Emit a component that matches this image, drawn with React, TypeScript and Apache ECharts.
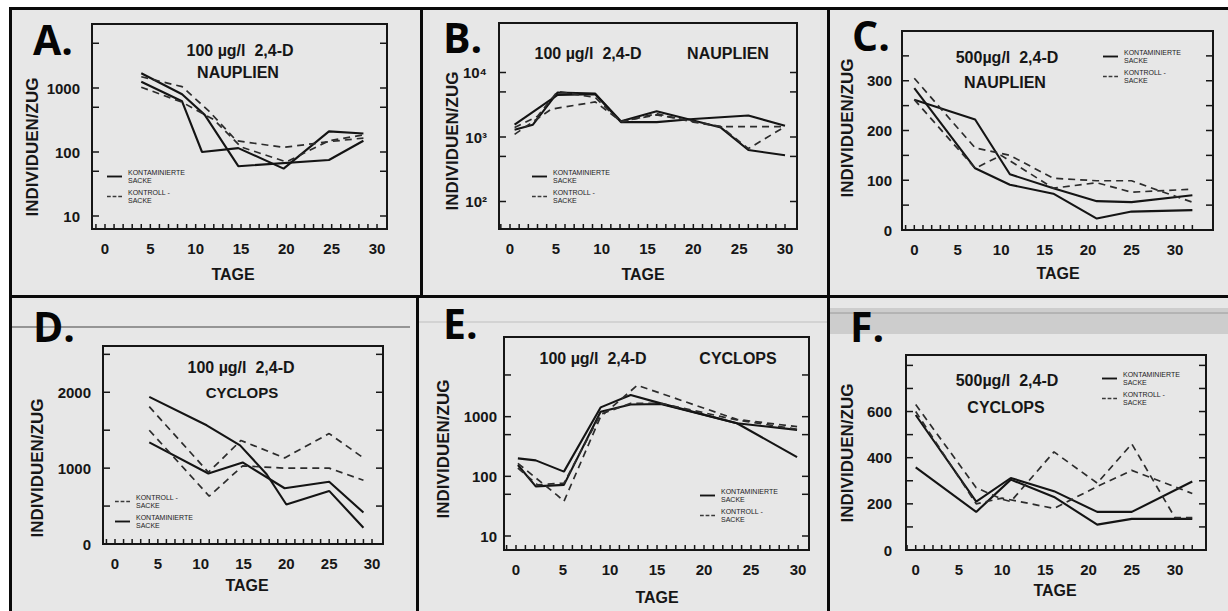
import React, { useEffect, useRef } from 'react';
import * as echarts from 'echarts';

type Pt = [number, number];

// ---------- data (day, individuals per haul) ----------
const A_SOLID_1: Pt[] = [[4, 1250], [8.5, 620], [10.7, 100], [14.7, 115], [19.7, 55], [24.7, 210], [28.5, 195]];
const A_SOLID_2: Pt[] = [[4, 1700], [8.5, 800], [11, 380], [14.7, 60], [24.7, 75], [28.5, 150]];
const A_DASH_1: Pt[] = [[4, 1500], [8.5, 1050], [11.5, 430], [14.5, 150], [19.7, 118], [24.7, 145], [28.5, 165]];
const A_DASH_2: Pt[] = [[4, 1030], [8.5, 600], [12, 320], [15, 120], [20, 70], [24.7, 150], [28.5, 185]];

const B_SOLID_1: Pt[] = [[0.5, 1300], [2.5, 1550], [5.2, 4900], [9.3, 4700], [12.1, 1750], [16, 2500], [20, 1800], [23, 1400], [26, 630], [30, 520]];
const B_SOLID_2: Pt[] = [[0.5, 1550], [5.2, 4500], [9.3, 4600], [12.1, 1700], [16, 1700], [20, 1900], [26, 2150], [30, 1500]];
const B_DASH_1: Pt[] = [[0.5, 1100], [4.5, 2700], [9.3, 3500], [12.1, 1750], [16, 2200], [20, 1750], [23, 1450], [30, 1450]];
const B_DASH_2: Pt[] = [[0.5, 1400], [3, 2100], [5.2, 5100], [9.3, 4100], [12.1, 1700], [16, 2300], [20, 1700], [23, 1450], [26, 660], [30, 1450]];

const C_SOLID_1: Pt[] = [[0, 262], [7, 222], [11, 112], [16, 84], [21, 58], [25, 56], [32, 70]];
const C_SOLID_2: Pt[] = [[0, 285], [7, 124], [11, 91], [16, 73], [21, 23], [25, 37], [32, 40]];
const C_DASH_1: Pt[] = [[0, 305], [7, 165], [11, 150], [16, 104], [21, 99], [25, 99], [28, 80], [32, 56]];
const C_DASH_2: Pt[] = [[0, 262], [7, 124], [10, 150], [16, 84], [21, 95], [25, 76], [32, 82]];

const D_SOLID_1: Pt[] = [[4, 1940], [10.7, 1565], [14.6, 1300], [17.7, 920], [20, 520], [25, 700], [29, 215]];
const D_SOLID_2: Pt[] = [[4, 1340], [10.9, 930], [14.9, 1075], [19.8, 735], [25, 820], [29, 415]];
const D_DASH_1: Pt[] = [[4, 1810], [10.9, 945], [14.7, 1365], [19.8, 1135], [25, 1455], [29, 1135]];
const D_DASH_2: Pt[] = [[4, 1500], [11, 630], [14.9, 1030], [19.8, 1000], [25, 1000], [29, 840]];

const E_SOLID_1: Pt[] = [[0.2, 200], [2.1, 185], [5.1, 120], [9, 1430], [12.2, 2300], [15.4, 1670], [23.5, 775], [29.9, 210]];
const E_SOLID_2: Pt[] = [[0.2, 155], [2.1, 68], [5.1, 72], [9, 1210], [12.2, 1600], [15.4, 1630], [23.5, 775], [29.9, 600]];
const E_DASH_1: Pt[] = [[0.2, 165], [4.4, 48], [5.1, 38], [9, 1000], [12.9, 3350], [23.5, 900], [29.9, 680]];
const E_DASH_2: Pt[] = [[0.2, 138], [2.3, 72], [5.1, 77], [9, 1100], [12.2, 1670], [15.4, 1670], [23.5, 880], [29.9, 615]];

const F_SOLID_1: Pt[] = [[0, 585], [7, 210], [11, 312], [16, 255], [21, 165], [25, 165], [32, 297]];
const F_SOLID_2: Pt[] = [[0, 358], [7, 165], [11, 305], [16, 230], [21, 110], [25, 135], [32, 135]];
const F_DASH_1: Pt[] = [[0, 630], [7, 270], [10, 220], [11, 210], [16, 425], [21, 290], [25, 460], [30, 140], [32, 140]];
const F_DASH_2: Pt[] = [[0, 600], [7, 200], [10, 225], [16, 180], [21, 275], [25, 345], [32, 245]];

// ---------- ticks and tick labels ----------
const DAY_LABELS = [0, 5, 10, 15, 20, 25, 30];
const DAY_TICKS_30 = [-1, 0, 1, 2, 3, 4, 5, 6, 7, 8, 9, 10, 11, 12, 13, 14, 15, 16, 17, 18, 19, 20, 21, 22, 23, 24, 25, 26, 27, 28, 29, 30];
const DAY_TICKS_32 = [...DAY_TICKS_30, 31, 32];
const LOG_LABELS_A = [10, 100, 1000];
const LOG_TICKS_A = [10, 50, 100, 500, 1000, 5000];
const LOG_LABELS_B = [100, 1000, 10000];
const LOG_TICKS_B = [100, 500, 1000, 5000, 10000];
const C_LABELS = [0, 100, 200, 300];
const C_TICKS = [50, 100, 150, 200, 250, 300, 350];
const D_LABELS = [0, 1000, 2000];
const D_TICKS = [500, 1000, 1500, 2000, 2500];
const F_LABELS = [0, 200, 400, 600];
const F_TICKS = [100, 200, 300, 400, 500, 600, 700, 800];
const POW_LABEL: Record<number, string> = { 100: '10²', 1000: '10³', 10000: '10⁴' };

const KONT = 'KONTAMINIERTE\nSACKE';
const KTRL = 'KONTROLL -\nSACKE';

const FONT = "'Liberation Sans', Arial, sans-serif";
const INK = '#161616';

interface Panel {
  letter: string; letterPos: [number, number];
  frame: [number, number, number, number];
  day0: number; pxPerDay: number; xMin: number; xMax: number; xTicks: number[]; xOffset: number;
  yTop: number; yBottom: number;
  log: boolean; yMin: number; yMax: number; yInterval?: number; yLabels: number[]; yTicks: number[]; yMargin: number;
  pow?: boolean;
  solid: Pt[][]; dashed: Pt[][];
  titles: { text: string; x: number; y: number; size: number }[];
  yTitle: [number, number]; xTitle: [number, number];
  legend: [number, number]; legendOrder: string[];
}

const PANELS: Panel[] = [
  {
    letter: 'A.', letterPos: [33, 39], frame: [92, 24, 295, 205],
    day0: 105, pxPerDay: 9.067, xMin: -1.2, xMax: 31.1, xTicks: DAY_TICKS_30, xOffset: 13, yTop: 24, yBottom: 216,
    log: true, yMin: 10, yMax: 10000, yLabels: LOG_LABELS_A, yTicks: LOG_TICKS_A, yMargin: 12,
    solid: [A_SOLID_1, A_SOLID_2], dashed: [A_DASH_1, A_DASH_2],
    titles: [{ text: '100 µg/l  2,4-D', x: 240, y: 50, size: 16 }, { text: 'NAUPLIEN', x: 238, y: 72, size: 16 }],
    yTitle: [32, 147], xTitle: [233, 274], legend: [107, 168], legendOrder: [KONT, KTRL],
  },
  {
    letter: 'B.', letterPos: [443, 37], frame: [499, 23, 298, 206],
    day0: 510, pxPerDay: 9.167, xMin: -1.1, xMax: 31.2, xTicks: DAY_TICKS_30, xOffset: 27.5, yTop: 72.5, yBottom: 201.5,
    log: true, yMin: 100, yMax: 10000, yLabels: LOG_LABELS_B, yTicks: LOG_TICKS_B, yMargin: 12, pow: true,
    solid: [B_SOLID_1, B_SOLID_2], dashed: [B_DASH_1, B_DASH_2],
    titles: [{ text: '100 µg/l  2,4-D', x: 588, y: 53, size: 16 }, { text: 'NAUPLIEN', x: 728, y: 53, size: 16 }],
    yTitle: [452, 141], xTitle: [643, 274], legend: [532, 168], legendOrder: [KONT, KTRL],
  },
  {
    letter: 'C.', letterPos: [852, 35], frame: [902, 31, 311, 199],
    day0: 914.3, pxPerDay: 8.69, xMin: -1.3, xMax: 34.3, xTicks: DAY_TICKS_32, xOffset: 0, yTop: 31, yBottom: 230,
    log: false, yMin: 0, yMax: 400, yInterval: 100, yLabels: C_LABELS, yTicks: C_TICKS, yMargin: 10,
    solid: [C_SOLID_1, C_SOLID_2], dashed: [C_DASH_1, C_DASH_2],
    titles: [{ text: '500µg/l  2,4-D', x: 1007, y: 57, size: 16 }, { text: 'NAUPLIEN', x: 1005, y: 82, size: 16 }],
    yTitle: [847, 128], xTitle: [1058, 273], legend: [1103, 48], legendOrder: [KONT, KTRL],
  },
  {
    letter: 'D.', letterPos: [33, 326], frame: [103, 346, 280, 198],
    day0: 115, pxPerDay: 8.567, xMin: -1.3, xMax: 31.3, xTicks: DAY_TICKS_30, xOffset: 0, yTop: 346, yBottom: 544,
    log: false, yMin: 0, yMax: 2610, yInterval: 1000, yLabels: D_LABELS, yTicks: D_TICKS, yMargin: 12,
    solid: [D_SOLID_1, D_SOLID_2], dashed: [D_DASH_1, D_DASH_2],
    titles: [{ text: '100 µg/l  2,4-D', x: 241, y: 367, size: 16 }, { text: 'CYCLOPS', x: 242, y: 392, size: 15 }],
    yTitle: [37, 468], xTitle: [247, 585], legend: [115, 493], legendOrder: [KTRL, KONT],
  },
  {
    letter: 'E.', letterPos: [443, 323], frame: [504, 337, 305, 213],
    day0: 516, pxPerDay: 9.4, xMin: -1.2, xMax: 31.1, xTicks: DAY_TICKS_30, xOffset: 14, yTop: 357, yBottom: 536,
    log: true, yMin: 10, yMax: 10000, yLabels: LOG_LABELS_A, yTicks: LOG_TICKS_A, yMargin: 7,
    solid: [E_SOLID_1, E_SOLID_2], dashed: [E_DASH_1, E_DASH_2],
    titles: [{ text: '100 µg/l  2,4-D', x: 593, y: 358, size: 16 }, { text: 'CYCLOPS', x: 738, y: 358, size: 16 }],
    yTitle: [443, 449], xTitle: [657, 597], legend: [700, 487], legendOrder: [KONT, KTRL],
  },
  {
    letter: 'F.', letterPos: [850, 326], frame: [906, 355, 300, 195],
    day0: 915.7, pxPerDay: 8.643, xMin: -1.1, xMax: 33.6, xTicks: DAY_TICKS_32, xOffset: 0, yTop: 355, yBottom: 550,
    log: false, yMin: 0, yMax: 845, yInterval: 200, yLabels: F_LABELS, yTicks: F_TICKS, yMargin: 14,
    solid: [F_SOLID_1, F_SOLID_2], dashed: [F_DASH_1, F_DASH_2],
    titles: [{ text: '500µg/l  2,4-D', x: 1007, y: 380, size: 16 }, { text: 'CYCLOPS', x: 1006, y: 407, size: 16 }],
    yTitle: [847, 453], xTitle: [1055, 590], legend: [1102, 370], legendOrder: [KONT, KTRL],
  },
];

const SOLID_ICON = 'path://M0,0H16V2H0Z';
const DASH_ICON = 'path://M0,0H4V1.4H0Z M6,0H10V1.4H6Z M12,0H16V1.4H12Z';

function buildOption() {
  const grid: any[] = [];
  const xAxis: any[] = [];
  const yAxis: any[] = [];
  const series: any[] = [];
  const legend: any[] = [];
  const graphic: any[] = [];

  // photo frame background & borders
  graphic.push(
    { type: 'rect', shape: { x: 0, y: 0, width: 1228, height: 7 }, style: { fill: '#ffffff' } },
    { type: 'rect', shape: { x: 0, y: 0, width: 9, height: 611 }, style: { fill: '#ffffff' } },
    { type: 'rect', shape: { x: 9, y: 7, width: 1219, height: 3 }, style: { fill: '#0a0a0a' } },
    { type: 'rect', shape: { x: 9, y: 7, width: 3, height: 604 }, style: { fill: '#0a0a0a' } },
    { type: 'rect', shape: { x: 9, y: 295, width: 1219, height: 3 }, style: { fill: '#0a0a0a' } },
    { type: 'rect', shape: { x: 420, y: 7, width: 3, height: 290 }, style: { fill: '#0a0a0a' } },
    { type: 'rect', shape: { x: 827, y: 7, width: 3, height: 290 }, style: { fill: '#0a0a0a' } },
    { type: 'rect', shape: { x: 416, y: 296, width: 3, height: 315 }, style: { fill: '#0a0a0a' } },
    { type: 'rect', shape: { x: 827, y: 296, width: 3, height: 315 }, style: { fill: '#0a0a0a' } },
    { type: 'line', shape: { x1: 12, y1: 327, x2: 410, y2: 327 }, style: { stroke: '#7a7a7a', lineWidth: 1.5 } },
    { type: 'rect', shape: { x: 830, y: 308, width: 398, height: 26 }, style: { fill: '#cdcdcd' } },
    { type: 'line', shape: { x1: 830, y1: 313, x2: 1228, y2: 313 }, style: { stroke: '#9a9a9a', lineWidth: 1 } },
    { type: 'line', shape: { x1: 419, y1: 322, x2: 827, y2: 322 }, style: { stroke: '#cdcdcd', lineWidth: 1.5 } },
  );

  PANELS.forEach((p, i) => {
    const gLeft = p.day0 + p.xMin * p.pxPerDay;
    const gRight = p.day0 + p.xMax * p.pxPerDay;
    const fLeft = p.frame[0];
    const fRight = p.frame[0] + p.frame[2];
    const fBottom = p.frame[1] + p.frame[3];
    grid.push({ left: gLeft, top: p.yTop, width: gRight - gLeft, height: p.yBottom - p.yTop, show: false, containLabel: false });
    const labelStyle = { fontFamily: FONT, fontSize: 15, fontWeight: 'bold', color: INK };
    xAxis.push({
      type: 'value', gridIndex: i, min: p.xMin, max: p.xMax, offset: p.xOffset,
      axisLine: { show: false }, axisTick: { show: false }, splitLine: { show: false },
      axisLabel: { ...labelStyle, margin: 12, customValues: DAY_LABELS, formatter: (v: number) => String(Math.round(v)) },
    });
    const yAx: any = {
      type: p.log ? 'log' : 'value', gridIndex: i, min: p.yMin, max: p.yMax, position: 'left', offset: gLeft - fLeft,
      axisLine: { show: false }, axisTick: { show: false }, splitLine: { show: false },
      axisLabel: {
        ...labelStyle, margin: p.yMargin, customValues: p.yLabels,
        formatter: (v: number) => {
          const r = Math.round(v);
          return p.pow ? (POW_LABEL[r] ?? String(r)) : String(r);
        },
      },
    };
    if (!p.log) yAx.interval = p.yInterval;
    yAxis.push(yAx);

    // tick marks, placed through the panel's own scales
    const tickData: number[][] = [
      ...p.xTicks.map((d) => [d, p.yMin, 0]),
      ...p.yTicks.map((v) => [p.xMin, v, 1]),
    ];
    series.push({
      type: 'custom', xAxisIndex: i, yAxisIndex: i, silent: true, z: 4, clip: false,
      data: tickData,
      renderItem: (_params: any, api: any) => {
        const pt = api.coord([api.value(0), api.value(1)]);
        const st = { stroke: INK, lineWidth: 1.5 };
        if (api.value(2) === 0) {
          return { type: 'line', shape: { x1: pt[0], y1: fBottom, x2: pt[0], y2: fBottom - 5 }, style: st };
        }
        return {
          type: 'group', children: [
            { type: 'line', shape: { x1: fLeft, y1: pt[1], x2: fLeft + 7, y2: pt[1] }, style: st },
            { type: 'line', shape: { x1: fRight, y1: pt[1], x2: fRight - 7, y2: pt[1] }, style: st },
          ],
        };
      },
    });

    p.solid.forEach((d) => series.push({
      type: 'line', name: KONT, data: d, xAxisIndex: i, yAxisIndex: i, symbol: 'none', silent: true, z: 3,
      lineStyle: { color: '#141414', width: 2.1 }, itemStyle: { color: '#141414' },
    }));
    p.dashed.forEach((d) => series.push({
      type: 'line', name: KTRL, data: d, xAxisIndex: i, yAxisIndex: i, symbol: 'none', silent: true, z: 3,
      lineStyle: { color: '#2c2c2c', width: 1.7, type: [7, 5] }, itemStyle: { color: '#3a3a3a' },
    }));
    legend.push({
      left: p.legend[0], top: p.legend[1], orient: 'vertical', padding: 0, itemGap: 3,
      itemWidth: 15, itemHeight: 2, selectedMode: false,
      data: p.legendOrder.map((n) => ({ name: n, icon: n === KONT ? SOLID_ICON : DASH_ICON })),
      textStyle: { fontFamily: FONT, fontSize: 7, lineHeight: 8.5, color: '#222', padding: [0, 0, 0, 1] },
    });
    // plot frame
    graphic.push({
      type: 'rect', z: 10, shape: { x: p.frame[0], y: p.frame[1], width: p.frame[2], height: p.frame[3] },
      style: { fill: 'none', stroke: INK, lineWidth: 2 },
    });
    graphic.push({
      type: 'text', x: p.letterPos[0], y: p.letterPos[1],
      style: { text: p.letter, font: `bold 41px 'Open Sans', ${FONT}`, fill: '#050505', align: 'left', verticalAlign: 'middle' },
    });
    p.titles.forEach((t) => graphic.push({
      type: 'text', x: t.x, y: t.y,
      style: { text: t.text, font: `bold ${t.size}px ${FONT}`, fill: INK, align: 'center', verticalAlign: 'middle' },
    }));
    graphic.push({
      type: 'text', x: p.yTitle[0], y: p.yTitle[1], rotation: Math.PI / 2,
      style: { text: 'INDIVIDUEN/ZUG', font: `bold 17px ${FONT}`, fill: INK, align: 'center', verticalAlign: 'middle' },
    });
    graphic.push({
      type: 'text', x: p.xTitle[0], y: p.xTitle[1],
      style: { text: 'TAGE', font: `bold 16px ${FONT}`, fill: INK, align: 'center', verticalAlign: 'middle' },
    });
  });

  return {
    animation: false,
    backgroundColor: '#e7e7e7',
    grid, xAxis, yAxis, series, legend, graphic,
  };
}

export default function App() {
  const ref = useRef<HTMLDivElement>(null);
  useEffect(() => {
    if (!ref.current) return;
    const chart = echarts.init(ref.current, undefined, { renderer: 'svg' });
    chart.setOption(buildOption() as any);
    return () => chart.dispose();
  }, []);
  return <div ref={ref} style={{ position: 'absolute', left: 0, top: 0, width: 1228, height: 611 }} />;
}
